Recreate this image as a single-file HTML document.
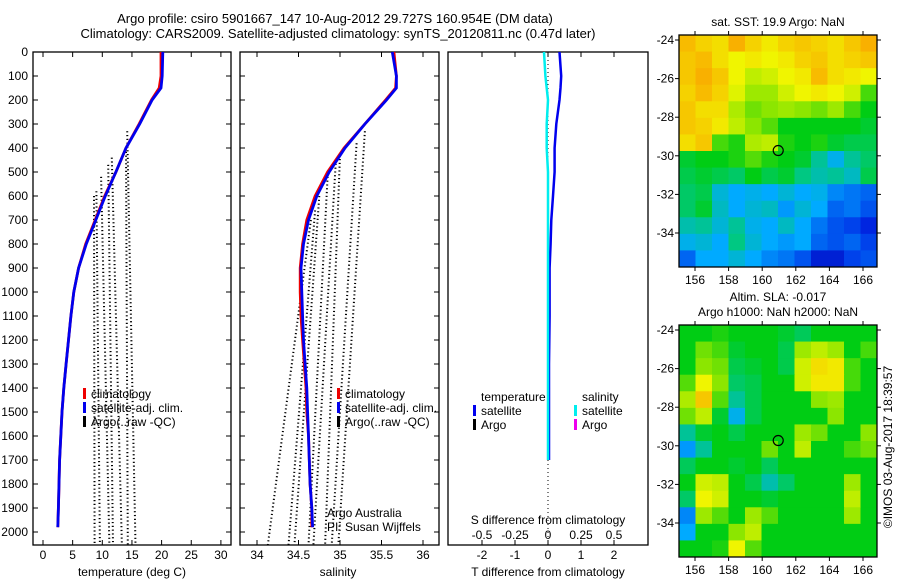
<!DOCTYPE html>
<html><head><meta charset="utf-8"><style>
html,body{margin:0;padding:0;background:#fff;}
svg{display:block;font-family:"Liberation Sans",sans-serif;}
text{font-size:12px;fill:#000;}
</style></head><body>
<svg id="chart" width="900" height="580" viewBox="0 0 900 580" xmlns="http://www.w3.org/2000/svg">
<text x="335" y="23" text-anchor="middle" style="font-size:13px">Argo profile: csiro 5901667_147 10-Aug-2012 29.727S 160.954E (DM data)</text>
<text x="338" y="38" text-anchor="middle" style="font-size:13px">Climatology: CARS2009. Satellite-adjusted climatology: synTS_20120811.nc (0.47d later)</text>
<g id="p1"></g>
<g id="p2"></g>
<g id="p3"></g>
<g id="m1"></g>
<g id="m2"></g>
<text transform="translate(892,447) rotate(-90)" text-anchor="middle">©IMOS 03-Aug-2017 18:39:57</text>
</svg>
<script>
// ---- data ----
const depths = [0,100,150,200,300,400,500,600,700,800,900,1000,1100,1200,1300,1400,1500,1600,1700,1800,1900,1980];
const tempClim = [19.9,19.9,19.6,18.3,16.2,14.0,12.3,10.4,8.8,7.2,6.0,5.2,4.7,4.3,3.9,3.5,3.2,3.0,2.8,2.7,2.6,2.5];
const tempSat  = [20.2,20.1,19.9,18.4,16.3,14.0,12.3,10.5,8.9,7.3,6.0,5.2,4.7,4.3,3.9,3.5,3.2,3.0,2.8,2.7,2.6,2.5];
const salClim  = [35.65,35.68,35.67,35.55,35.3,35.05,34.85,34.7,34.6,34.55,34.52,34.52,34.53,34.55,34.57,34.59,34.6,34.62,34.63,34.64,34.66,34.66];
const salSat   = [35.63,35.68,35.68,35.56,35.3,35.06,34.87,34.72,34.62,34.56,34.53,34.54,34.55,34.56,34.58,34.60,34.61,34.62,34.63,34.64,34.66,34.67];
const tDiffSat = [0.35,0.4,0.38,0.35,0.25,0.2,0.2,0.15,0.1,0.08,0.05,0.05,0.05,0.04,0.03,0.03,0.03,0.03,0.03];
const sDiffSat = [-0.03,-0.02,-0.01,0.0,-0.01,-0.01,0.0,0.0,0.0,0.0,0.0,0.0,0.0,0.0,0.0,0.0,0.0,0.0,0.0];
const argoTempStart = [14.2,14.0,11.6,11.0,9.8,9.0,8.6];
const argoTempStartDepth = [330,400,440,470,520,580,600];
const argoTempEnd = [15.6,14.3,13.3,11.8,11.2,9.6,8.7];
const argoSalStart = [35.3,35.2,35.0,34.95,34.85,34.75,34.7,34.65];
const argoSalStartDepth = [330,380,430,450,520,600,660,700];
const argoSalEnd = [34.98,34.9,34.82,34.68,34.62,34.45,34.38,34.13];
const tTicks = [0,5,10,15,20,25,30];
const sTicks = [34,34.5,35,35.5,36];
const depthTicks = [0,100,200,300,400,500,600,700,800,900,1000,1100,1200,1300,1400,1500,1600,1700,1800,1900,2000];
const tdTicks = [-2,-1,0,1,2];
const sdTicks = [-0.5,-0.25,0,0.25,0.5];
const sdTickLabels = ['-0.5','-0.25','0','0.25','0.5'];
const lonTicks = [156,158,160,162,164,166];
const latTicks = [-24,-26,-28,-30,-32,-34];
const sstGrid = [
[.82,.78,.76,.84,.78,.74,.78,.80,.78,.76,.80,.84],
[.80,.82,.76,.72,.74,.72,.74,.78,.80,.76,.78,.80],
[.80,.84,.80,.72,.66,.68,.72,.74,.82,.76,.74,.72],
[.78,.82,.78,.70,.62,.62,.68,.72,.74,.72,.68,.55],
[.80,.76,.76,.64,.58,.60,.62,.60,.58,.62,.55,.50],
[.80,.78,.74,.66,.60,.56,.50,.50,.50,.50,.50,.48],
[.76,.80,.55,.52,.64,.66,.52,.50,.52,.48,.46,.46],
[.48,.50,.50,.52,.56,.52,.50,.48,.40,.32,.40,.44],
[.46,.48,.46,.44,.50,.46,.48,.42,.38,.40,.36,.46],
[.44,.46,.34,.30,.32,.30,.34,.30,.32,.26,.24,.22],
[.44,.48,.36,.30,.34,.36,.28,.34,.30,.22,.24,.20],
[.38,.40,.34,.40,.32,.30,.36,.30,.24,.20,.18,.14],
[.32,.34,.30,.42,.34,.30,.28,.30,.22,.20,.22,.18],
[.22,.30,.30,.34,.30,.26,.24,.20,.12,.12,.18,.20]];
const slaGrid = [
[.5,.5,.52,.5,.5,.5,.48,.45,.5,.5,.5,.5],
[.5,.58,.55,.48,.5,.5,.46,.62,.66,.62,.5,.55],
[.5,.6,.58,.46,.48,.5,.46,.68,.76,.74,.55,.5],
[.56,.72,.6,.44,.46,.5,.5,.68,.74,.74,.55,.5],
[.64,.80,.56,.40,.46,.5,.5,.5,.6,.62,.5,.5],
[.58,.66,.48,.32,.46,.5,.5,.5,.5,.6,.5,.5],
[.40,.48,.5,.46,.5,.5,.5,.62,.58,.5,.5,.6],
[.28,.40,.5,.5,.5,.58,.5,.66,.5,.5,.55,.58],
[.45,.5,.5,.48,.5,.45,.5,.5,.5,.5,.5,.5],
[.5,.68,.66,.5,.46,.38,.44,.5,.5,.5,.62,.5],
[.44,.72,.68,.5,.5,.48,.5,.5,.5,.5,.66,.5],
[.26,.62,.56,.5,.62,.56,.5,.5,.5,.5,.62,.5],
[.30,.5,.5,.6,.66,.5,.5,.5,.5,.5,.5,.5],
[.5,.5,.52,.72,.56,.5,.5,.5,.5,.5,.5,.5]];
const argoLon = 160.954, argoLat = -29.727;

// ---- helpers ----
const NS='http://www.w3.org/2000/svg';
function mk(parent,tag,attrs,txt){const e=document.createElementNS(NS,tag);for(const k in attrs)e.setAttribute(k,attrs[k]);if(txt!==undefined)e.textContent=txt;parent.appendChild(e);return e;}
const TOP=52,BOT=545;
const yD = d => TOP + d*0.24;
const xT = t => 43 + t*5.93;
const xS = s => 257 + (s-34)*83;
const xTd = v => 548 + v*33;
const xSd = v => 548 + v*132;

function frame(g,x0,x1,name){
  const r=mk(g,'rect',{x:x0,y:TOP,width:x1-x0,height:BOT-TOP,fill:'none',stroke:'#000','stroke-width':1.3});
  
  
  depthTicks.forEach(d=>{
    mk(g,'line',{x1:x0,x2:x0+5,y1:yD(d),y2:yD(d),stroke:'#000'});
    mk(g,'line',{x1:x1,x2:x1-5,y1:yD(d),y2:yD(d),stroke:'#000'});
  });
}
function poly(g,xs,ds,color,w,name,dash){
  const pts=xs.map((v,i)=>v.toFixed(1)+','+yD(ds[i]).toFixed(1)).join(' ');
  const p=mk(g,'polyline',{points:pts,fill:'none',stroke:color,'stroke-width':w});
  if(dash)p.setAttribute('stroke-dasharray',dash);
  
  
  return p;
}
function legendItem(g,x,y,color,label,name){
  mk(g,'rect',{x:x,y:y-10,width:3,height:11,fill:color});
  const t=mk(g,'text',{x:x+8,y:y},label);
  
  
}

// ---- panel 1: temperature ----
const g1=document.getElementById('p1');
frame(g1,33,231,'temperature');
depthTicks.forEach(d=>{ const t=mk(g1,'text',{x:28,y:yD(d)+4,'text-anchor':'end'},String(d));
  
  });
tTicks.forEach(v=>{mk(g1,'line',{x1:xT(v),x2:xT(v),y1:TOP,y2:TOP+5,stroke:'#000'});mk(g1,'line',{x1:xT(v),x2:xT(v),y1:BOT,y2:BOT-5,stroke:'#000'});
  const t=mk(g1,'text',{x:xT(v),y:559,'text-anchor':'middle'},String(v));
  
  });
argoTempStart.forEach((v,i)=>poly(g1,[xT(v),xT(argoTempEnd[i])],[argoTempStartDepth[i],2055],'#000',2,'argo-temperature-profile','1.2 2.6'));
poly(g1,tempClim.map(xT),depths,'#e00',2.8,'temperature-climatology-line');
poly(g1,tempSat.map(xT),depths,'#00e',2.8,'temperature-satellite-line');
{const t=mk(g1,'text',{x:132,y:576,'text-anchor':'middle'},'temperature (deg C)');}
legendItem(g1,83,398,'#e00','climatology','legend-climatology');
legendItem(g1,83,412,'#00e','satellite-adj. clim.','legend-satellite');
legendItem(g1,83,426,'#000','Argo(..raw -QC)','legend-argo');

// ---- panel 2: salinity ----
const g2=document.getElementById('p2');
frame(g2,240,439,'salinity');
sTicks.forEach(v=>{mk(g2,'line',{x1:xS(v),x2:xS(v),y1:TOP,y2:TOP+5,stroke:'#000'});mk(g2,'line',{x1:xS(v),x2:xS(v),y1:BOT,y2:BOT-5,stroke:'#000'});
  const t=mk(g2,'text',{x:xS(v),y:559,'text-anchor':'middle'},String(v));
  
  });
argoSalStart.forEach((v,i)=>poly(g2,[xS(v),xS(argoSalEnd[i])],[argoSalStartDepth[i],2055],'#000',2,'argo-salinity-profile','1.2 2.6'));
poly(g2,salClim.map(xS),depths,'#e00',2.8,'salinity-climatology-line');
poly(g2,salSat.map(xS),depths,'#00e',2.8,'salinity-satellite-line');
{const t=mk(g2,'text',{x:338,y:576,'text-anchor':'middle'},'salinity');}
legendItem(g2,337,398,'#e00','climatology','legend-climatology');
legendItem(g2,337,412,'#00e','satellite-adj. clim.','legend-satellite');
legendItem(g2,337,426,'#000','Argo(..raw -QC)','legend-argo');
{const t=mk(g2,'text',{x:327,y:517},'Argo Australia');}
{const t=mk(g2,'text',{x:327,y:531},'PI: Susan Wijffels');}

// ---- panel 3: differences ----
const g3=document.getElementById('p3');
{const r=mk(g3,'rect',{x:448,y:TOP,width:200,height:BOT-TOP,fill:'none',stroke:'#000','stroke-width':1.3});}
tdTicks.forEach(v=>{mk(g3,'line',{x1:xTd(v),x2:xTd(v),y1:TOP,y2:TOP+5,stroke:'#000'});mk(g3,'line',{x1:xTd(v),x2:xTd(v),y1:BOT,y2:BOT-5,stroke:'#000'});
  const t=mk(g3,'text',{x:xTd(v),y:559,'text-anchor':'middle'},String(v));
  
  });
sdTicks.forEach((v,i)=>{mk(g3,'line',{x1:xSd(v),x2:xSd(v),y1:BOT,y2:BOT-4,stroke:'#000'});
  const t=mk(g3,'text',{x:xSd(v),y:539,'text-anchor':'middle'},sdTickLabels[i]);
  
  });
{const t=mk(g3,'text',{x:548,y:524,'text-anchor':'middle'},'S difference from climatology');}
{const t=mk(g3,'text',{x:548,y:576,'text-anchor':'middle'},'T difference from climatology');}
poly(g3,[xTd(0),xTd(0)],[0,2055],'#000',1,'zero-line','1 3');
const dDepths=depths.slice(0,19).map(d=>Math.min(d,1700));
poly(g3,tDiffSat.map(xTd),dDepths,'#00e',2.5,'t-diff-satellite-line');
poly(g3,sDiffSat.map(xSd),dDepths,'#0ee',2.5,'s-diff-satellite-line');
{const t=mk(g3,'text',{x:481,y:401},'temperature');}
{const t=mk(g3,'text',{x:582,y:401},'salinity');}
legendItem(g3,473,415,'#00e','satellite','legend-t-satellite');
legendItem(g3,473,429,'#000','Argo','legend-t-argo');
legendItem(g3,574,415,'#0ee','satellite','legend-s-satellite');
legendItem(g3,574,429,'#e0e','Argo','legend-s-argo');

// ---- maps ----
function jet(v){
  const stops=[[0,[0,0,140]],[0.15,[0,40,230]],[0.3,[0,170,255]],[0.42,[0,200,130]],[0.5,[0,205,20]],[0.6,[140,230,0]],[0.72,[240,245,0]],[0.85,[250,170,0]],[1,[220,80,0]]];
  for(let i=1;i<stops.length;i++){if(v<=stops[i][0]){const a=stops[i-1],b=stops[i],f=(v-a[0])/(b[0]-a[0]);
    return 'rgb('+a[1].map((c,j)=>Math.round(c+(b[1][j]-c)*f)).join(',')+')';}}
  return 'rgb(220,80,0)';
}
function drawMap(g,grid,top,titles,name){
  const L=679,R=877,B=top+232;
  const lonX=lon=>695+(lon-156)*16.8;
  const latY=lat=>top+5+(-24-lat)*19.3;
  const rows=grid.length, cols=grid[0].length, cw=(R-L)/cols, ch=(B-top)/rows;
  grid.forEach((row,i)=>row.forEach((v,j)=>{
    const c=mk(g,'rect',{x:L+j*cw,y:top+i*ch,width:cw+0.5,height:ch+0.5,fill:jet(v)});
    
    
  }));
  const f=mk(g,'rect',{x:L,y:top,width:R-L,height:B-top,fill:'none',stroke:'#000','stroke-width':1.3});
  
  
  lonTicks.forEach(v=>{const x=lonX(v);mk(g,'line',{x1:x,x2:x,y1:top,y2:top-4,stroke:'#000'});mk(g,'line',{x1:x,x2:x,y1:B,y2:B+4,stroke:'#000'});
    const t=mk(g,'text',{x:x,y:B+17,'text-anchor':'middle'},String(v));
    
    });
  latTicks.forEach(v=>{const y=latY(v);mk(g,'line',{x1:L,x2:L-4,y1:y,y2:y,stroke:'#000'});mk(g,'line',{x1:R,x2:R+4,y1:y,y2:y,stroke:'#000'});
    const t=mk(g,'text',{x:L-5,y:y+4,'text-anchor':'end'},String(v));
    
    });
  const c=mk(g,'circle',{cx:lonX(argoLon),cy:latY(argoLat),r:5,fill:'none',stroke:'#000','stroke-width':1.2});
  
  
  titles.forEach((s,i)=>{const t=mk(g,'text',{x:778,y:top-9-(titles.length-1-i)*15,'text-anchor':'middle'},s);
    
    });
}
drawMap(document.getElementById('m1'),sstGrid,35,['sat. SST: 19.9 Argo: NaN'],'sst-map');
drawMap(document.getElementById('m2'),slaGrid,325,['Altim. SLA: -0.017','Argo h1000: NaN h2000: NaN'],'sla-map');
</script>
</body></html>
